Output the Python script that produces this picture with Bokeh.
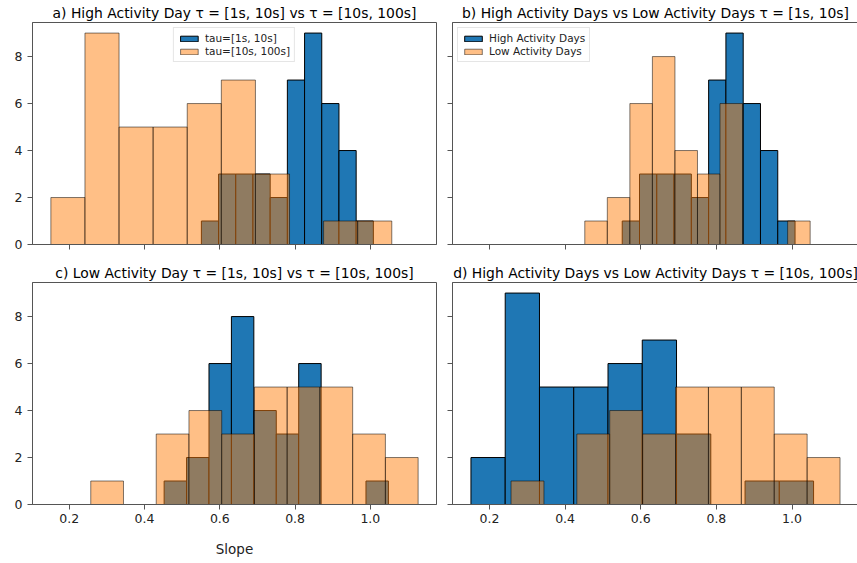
import numpy as np
from bokeh.plotting import figure
from bokeh.layouts import gridplot
from bokeh.models import (Range1d, Legend, LegendItem, FixedTicker, PrintfTickFormatter,
                          CustomLabelingPolicy)
from bokeh.embed import file_html
from bokeh.resources import INLINE

# ---- data (10 bins between each series' min and max) ----
high_tau1_counts = [1, 3, 3, 3, 2, 7, 9, 6, 4, 1]
high_tau1_range = (0.551, 1.008)
high_tau2_counts = [2, 9, 5, 5, 6, 7, 3, 0, 1, 1]
high_tau2_range = (0.151, 1.057)
low_tau1_counts = [1, 2, 6, 8, 4, 3, 6, 0, 0, 1]
low_tau1_range = (0.452, 1.048)
low_tau2_counts = [1, 0, 3, 4, 3, 5, 5, 5, 3, 2]
low_tau2_range = (0.257, 1.127)

titles = [
    "a) High Activity Day \u03c4 = [1s, 10s] vs \u03c4 = [10s, 100s]",
    "b) High Activity Days vs Low Activity Days \u03c4 = [1s, 10s]",
    "c) Low Activity Day \u03c4 = [1s, 10s] vs \u03c4 = [10s, 100s]",
    "d) High Activity Days vs Low Activity Days \u03c4 = [10s, 100s]",
]
x_ticks = [0.2, 0.4, 0.6, 0.8, 1.0]
y_ticks = [0, 2, 4, 6, 8]
x_label = "Slope"

BLUE = "#1f77b4"
ORANGE = "#ff7f0e"
FONT = "DejaVu Sans"
SPINE = "#555555"

all_min = min(high_tau1_range[0], high_tau2_range[0], low_tau1_range[0], low_tau2_range[0])
all_max = max(high_tau1_range[1], high_tau2_range[1], low_tau1_range[1], low_tau2_range[1])
span = all_max - all_min
x_range = Range1d(all_min - 0.05 * span, all_max + 0.05 * span)
y_max = max(max(high_tau1_counts), max(high_tau2_counts), max(low_tau1_counts), max(low_tau2_counts))
y_range = Range1d(0, y_max * 1.05)


def edges(rng, n):
    return np.linspace(rng[0], rng[1], n + 1)


def hist(p, counts, rng, color, alpha):
    e = edges(rng, len(counts))
    return p.quad(left=e[:-1], right=e[1:], top=counts, bottom=0,
                  fill_color=color, fill_alpha=alpha,
                  line_color="black", line_alpha=alpha, line_width=1)


def hide_labels(ax):
    ax.major_label_text_font_size = "1px"
    ax.major_label_standoff = 0
    ax.major_label_policy = CustomLabelingPolicy(code="return new Set()")


def make_fig(title, left, fw, right, top, fh, bottom, show_x, show_y, xlab=None):
    p = figure(frame_width=fw, frame_height=fh,
               min_border_left=left, min_border_right=right,
               min_border_top=top, min_border_bottom=bottom,
               x_range=x_range, y_range=y_range,
               output_backend="svg", toolbar_location=None, title=title)
    p.title.align = "center"
    p.title.text_font = FONT
    p.title.text_font_size = "13.9px"
    p.title.text_font_style = "normal"
    p.title.text_color = "black"
    p.title.standoff = 4
    p.grid.grid_line_color = None
    p.outline_line_color = SPINE
    p.outline_line_width = 1
    p.background_fill_color = "white"
    p.border_fill_color = "white"
    for ax in (p.xaxis[0], p.yaxis[0]):
        ax.axis_line_color = SPINE
        ax.major_tick_line_color = SPINE
        ax.major_tick_out = 5
        ax.major_tick_in = 0
        ax.minor_tick_out = 0
        ax.minor_tick_in = 0
        ax.minor_tick_line_color = None
        ax.major_label_text_font = FONT
        ax.major_label_text_color = "#222222"
    p.xaxis.ticker = FixedTicker(ticks=x_ticks)
    p.yaxis.ticker = FixedTicker(ticks=y_ticks)
    p.xaxis.formatter = PrintfTickFormatter(format="%.1f")
    p.yaxis.formatter = PrintfTickFormatter(format="%d")
    if show_x:
        p.xaxis.major_label_text_font_size = "12.5px"
        p.xaxis.major_label_standoff = 4
    else:
        hide_labels(p.xaxis[0])
    if show_y:
        p.yaxis.major_label_text_font_size = "12.5px"
        p.yaxis.major_label_standoff = 5
    else:
        hide_labels(p.yaxis[0])
    if xlab:
        p.xaxis.axis_label = xlab
        p.xaxis.axis_label_text_font = FONT
        p.xaxis.axis_label_text_font_size = "13.5px"
        p.xaxis.axis_label_text_font_style = "normal"
        p.xaxis.axis_label_text_color = "#222222"
        p.xaxis.axis_label_standoff = 15
    return p


def add_legend(p, items, loc):
    lg = Legend(items=[LegendItem(label=l, renderers=[r]) for l, r in items], location=loc)
    lg.label_text_font = FONT
    lg.label_text_font_size = "10.5px"
    lg.label_text_color = "#222222"
    lg.glyph_width = 22
    lg.glyph_height = 7
    lg.label_height = 12
    lg.label_standoff = 5
    lg.spacing = 1
    lg.padding = 4
    lg.margin = 5
    lg.border_line_color = "#cccccc"
    lg.border_line_width = 1
    lg.background_fill_color = "white"
    lg.background_fill_alpha = 0.8
    p.add_layout(lg)


pa = make_fig(titles[0], 32, 404, 7, 22, 222, 16, False, True)
r1 = hist(pa, high_tau1_counts, high_tau1_range, BLUE, 1.0)
r2 = hist(pa, high_tau2_counts, high_tau2_range, ORANGE, 0.5)
add_legend(pa, [("tau=[1s, 10s]", r1), ("tau=[10s, 100s]", r2)], "top_center")

pb = make_fig(titles[1], 7, 406, 1, 22, 222, 16, False, False)
r3 = hist(pb, high_tau1_counts, high_tau1_range, BLUE, 1.0)
r4 = hist(pb, low_tau1_counts, low_tau1_range, ORANGE, 0.5)
add_legend(pb, [("High Activity Days", r3), ("Low Activity Days", r4)], "top_left")

pc = make_fig(titles[2], 32, 404, 7, 22, 222, 59, True, True, xlab=x_label)
hist(pc, low_tau1_counts, low_tau1_range, BLUE, 1.0)
hist(pc, low_tau2_counts, low_tau2_range, ORANGE, 0.5)

pd_ = make_fig(titles[3], 7, 406, 1, 22, 222, 59, True, False)
hist(pd_, high_tau2_counts, high_tau2_range, BLUE, 1.0)
hist(pd_, low_tau2_counts, low_tau2_range, ORANGE, 0.5)

grid = gridplot([[pa, pb], [pc, pd_]], toolbar_location=None)

open("out.html", "w").write(file_html(grid, INLINE))
